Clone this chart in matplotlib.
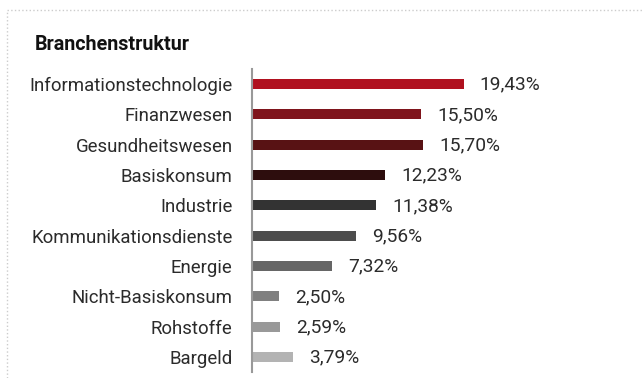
import matplotlib.pyplot as plt
from matplotlib.lines import Line2D

plt.rcParams['font.family'] = ['Roboto', 'DejaVu Sans']

sectors = ['Informationstechnologie', 'Finanzwesen', 'Gesundheitswesen', 'Basiskonsum',
           'Industrie', 'Kommunikationsdienste', 'Energie', 'Nicht-Basiskonsum',
           'Rohstoffe', 'Bargeld']
weights = [19.43, 15.50, 15.70, 12.23, 11.38, 9.56, 7.32, 2.50, 2.59, 3.79]
colors = ['#B0111F', '#7F141C', '#581214', '#2D0D0D', '#333333',
          '#4D4D4D', '#666666', '#808080', '#999999', '#B3B3B3']

fig = plt.figure(figsize=(6.44, 3.78), dpi=100)
ax = fig.add_axes([252 / 644, 1 - 372 / 378, 368 / 644, 303 / 378])

ypos = list(range(len(sectors)))
ax.barh(ypos, weights, height=0.33, color=colors)
for y, w in zip(ypos, weights):
    ax.annotate(f'{w:.2f}%'.replace('.', ','), (w, y), xytext=(11.5, -0.5),
                textcoords='offset points', va='center', ha='left',
                fontsize=13.8, color='#2b2b2b')

ax.set_yticks(ypos)
ax.set_yticklabels(sectors, fontsize=13.4, color='#2b2b2b')
ax.tick_params(axis='y', length=0, pad=14)
ax.set_xticks([])
ax.set_xlim(0, 368 / 10.9)
ax.set_ylim(9.5, -0.5)
for side in ['top', 'right', 'bottom']:
    ax.spines[side].set_visible(False)
ax.spines['left'].set_color('#999999')
ax.spines['left'].set_linewidth(1.5)

fig.text(35 / 644, 1 - 44 / 378, 'Branchenstruktur', fontsize=14.2,
         fontweight='bold', va='center', ha='left', color='#111111')

# dotted frame round the panel
fig.add_artist(Line2D([7 / 644, 1], [1 - 10 / 378] * 2, transform=fig.transFigure,
                      color='#cccccc', linestyle=':', linewidth=1))
fig.add_artist(Line2D([7 / 644] * 2, [0, 1 - 10 / 378], transform=fig.transFigure,
                      color='#cccccc', linestyle=':', linewidth=1))

fig.savefig('out.png', dpi=100)
